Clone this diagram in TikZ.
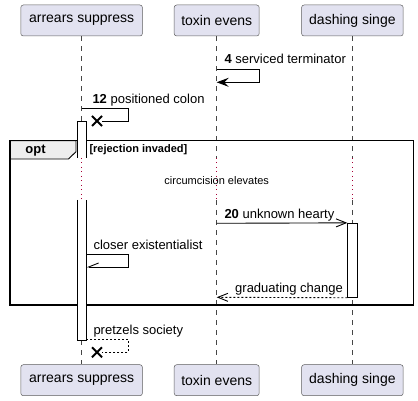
\documentclass[tikz,border=0pt]{standalone}
\usepackage{fontspec}
\setmainfont{Liberation Sans}
\usetikzlibrary{arrows.meta,positioning,shapes.misc}
\definecolor{partfill}{HTML}{E2E2F0}
\definecolor{partline}{HTML}{181818}
\definecolor{delayline}{HTML}{A80036}
\definecolor{tabfill}{HTML}{EEEEEE}
\tikzset{
  >=latex,
  synchead/.tip={Stealth[length=12pt,width=9pt,inset=4.5pt]},
  openhead/.tip={Straight Barb[length=10pt,width=8pt]},
  halfhead/.tip={Straight Barb[harpoon,swap,length=10pt,width=8pt]},
}
\tikzstyle{participant}=[draw=partline!70,line width=.5pt,fill=partfill,rounded corners=2.5pt,minimum height=31pt,inner sep=0pt,font=\fontsize{14}{17}\selectfont]
\tikzstyle{lifeline}=[partline!80,line width=.5pt,dash pattern=on 5pt off 5pt]
\tikzstyle{delayed}=[delayline,line width=.8pt,dash pattern=on 1pt off 3.5pt]
\tikzstyle{activation}=[draw,fill=white,line width=.9pt,inner sep=0pt,minimum width=9.5pt]
\tikzstyle{message}=[line width=.9pt]
\tikzstyle{reply}=[message,dash pattern=on 2pt off 2pt]
\tikzstyle{msglabel}=[anchor=base west,inner sep=0pt]
\tikzstyle{destroy}=[cross out,draw,line width=2pt,minimum size=8pt,inner sep=0pt]
\tikzstyle{every node}=[font=\fontsize{13}{16}\selectfont]

\begin{document}
\begin{tikzpicture}[x=1pt,y=-1pt]
  \useasboundingbox (0,0) rectangle (418,401);
  \node[participant,minimum width=121.6pt] (arrT) at (81.6,20.5) {arrears suppress};
  \node[participant,minimum width=85pt] (toxT) at (216.7,20.5) {toxin evens};
  \node[participant,minimum width=101.6pt] (dasT) at (352.4,20.5) {dashing singe};
  \node[participant,minimum width=121.6pt] (arrB) at (81.6,380.2) {arrears suppress};
  \node[participant,minimum width=85pt] (toxB) at (216.7,380.2) {toxin evens};
  \node[participant,minimum width=101.6pt] (dasB) at (352.4,380.2) {dashing singe};
  \coordinate (dtop) at (0,158);
  \coordinate (dbot) at (0,200);
  \foreach \p in {arr,tox,das}{
    \draw[lifeline] (\p T) -- (\p T |- dtop);
    \draw[delayed] (\p T |- dtop) -- (\p T |- dbot);
    \draw[lifeline] (\p T |- dbot) -- (\p B);
  }
  \draw[fill=tabfill,line width=.9pt] (10,140.7) -- (76,140.7) -- (76,151.7) -- (68.5,159) -- (10,159) -- cycle;
  \draw[line width=1.5pt] (10,140.7) rectangle (413.3,305);
  \node[font=\bfseries\fontsize{13}{16}\selectfont] (opt) at (35.5,150.5) {opt};
  \node[anchor=west,inner sep=0pt,font=\bfseries\fontsize{11}{13}\selectfont] (guard) at (89.3,150) {[rejection invaded]};
  \node[font=\fontsize{11}{13}\selectfont] (delaytext) at (216.7,180.7) {circumcision elevates};
  \filldraw[fill=white,line width=.9pt] (77.3,158) -- (77.3,121.7) -- (86.3,121.7) -- (86.3,158);
  \filldraw[fill=white,line width=.9pt] (77.3,200) -- (77.3,340) -- (86.3,340) -- (86.3,200);
  \node[activation,minimum height=74pt] (actC) at (352.5,260.3) {};
  \coordinate (m4a) at (216.7,69.3);
  \coordinate (m4b) at (216.7,82.3);
  \coordinate (m12a) at (81.7,108.3);
  \coordinate (m20) at (216.7,223.3);
  \coordinate (m26a) at (86.3,254.3);
  \coordinate (m26b) at (86.3,267);
  \coordinate (m28) at (216.7,297.3);
  \coordinate (m30a) at (86.3,339.3);
  \node[destroy] (kill12) at (97,121) {};
  \node[destroy] (kill30) at (97,352.3) {};
  \draw[message,-synchead] (m4a) -- ++(42.6,0) |- (m4b);
  \draw[message] (m12a) -- ++(46.6,0) |- (kill12.east);
  \draw[message,-openhead] (m20) -- (actC.north west);
  \draw[message,-halfhead] (m26a) -- ++(42,0) |- (m26b);
  \draw[reply,-openhead] (actC.south west) -- (m28);
  \draw[reply] (m30a) -- ++(42,0) |- (kill30.east);
  \node[msglabel] (t4) at (224.3,64) {\textbf{4} serviced terminator};
  \node[msglabel] (t12) at (92.3,103.5) {\textbf{12} positioned colon};
  \node[msglabel] (t20) at (224.3,218.3) {\textbf{20} unknown hearty};
  \node[msglabel] (t26) at (93.3,249) {closer existentialist};
  \node[msglabel] (t28) at (235,292.3) {graduating change};
  \node[msglabel] (t30) at (93.3,334.5) {pretzels society};
\end{tikzpicture}
\end{document}
